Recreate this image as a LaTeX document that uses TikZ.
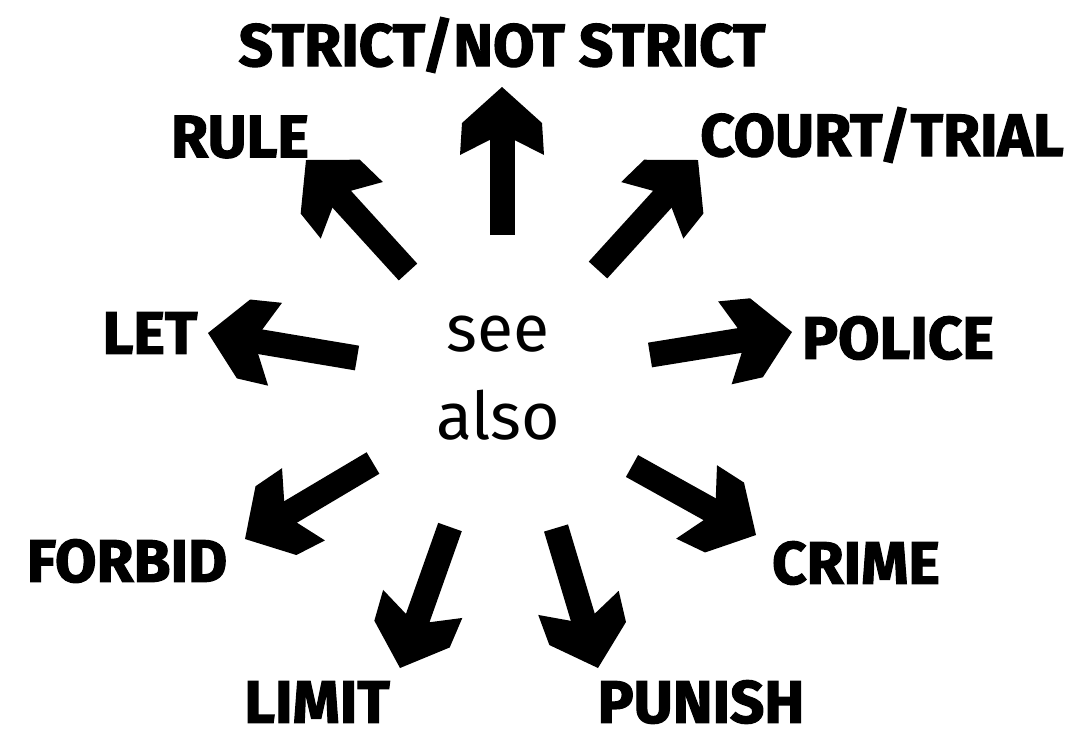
\documentclass[tikz,border=0pt]{standalone}
\usepackage{fontspec}
\setmainfont{Fira Sans}
\newfontfamily\heavyfont{Fira Sans}[BoldFeatures={FakeBold=2}]
\usetikzlibrary{arrows.meta}

% broad arrow head with a notched back
\pgfdeclarearrow{
  name = Chunky,
  setup code = {
    \pgfarrowssettipend{0pt}
    \pgfarrowssetlineend{-45pt}
    \pgfarrowssetvisualbackend{-53pt}
    \pgfarrowssetbackend{-68pt}
    \pgfarrowshullpoint{0pt}{0pt}
    \pgfarrowshullpoint{-68pt}{42pt}
    \pgfarrowshullpoint{-68pt}{-42pt}
  },
  drawing code = {
    \pgfpathmoveto{\pgfpoint{0pt}{0pt}}
    \pgfpathlineto{\pgfpoint{-36pt}{40pt}}
    \pgfpathlineto{\pgfpoint{-68pt}{42pt}}
    \pgfpathlineto{\pgfpoint{-53pt}{12.5pt}}
    \pgfpathlineto{\pgfpoint{-53pt}{-12.5pt}}
    \pgfpathlineto{\pgfpoint{-68pt}{-42pt}}
    \pgfpathlineto{\pgfpoint{-36pt}{-40pt}}
    \pgfpathclose
    \pgfusepathqfill
  }
}

\begin{document}
\begin{tikzpicture}[
  x=1pt, y=-1pt,
  word/.style={font=\heavyfont\fontsize{60}{60}\selectfont\bfseries, inner sep=0pt},
  seealso/.style={font=\fontsize{66}{88}\selectfont, align=center, inner sep=0pt},
  fat/.style={line width=25pt, -{Chunky}}
]
\useasboundingbox (0,0) rectangle (1078,740);

\node[seealso] (see) at (498,378) {see\\also};

\node[word] (strict) at (502,45) {STRICT/NOT STRICT};
\node[word] (rule) at (240,137) {RULE};
\node[word] (court) at (882,135) {COURT/TRIAL};
\node[word] (let) at (150,333) {LET};
\node[word] (police) at (898,338) {POLICE};
\node[word] (forbid) at (127,561) {FORBID};
\node[word] (crime) at (856,563) {CRIME};
\node[word] (limit) at (317,702) {LIMIT};
\node[word] (punish) at (701,702) {PUNISH};

% tails round the centre, tips next to the words
\coordinate (strict-t) at (502,235);
\coordinate (strict-h) at (502,87);
\coordinate (rule-t) at (408,272);
\coordinate (rule-h) at (306,160);
\coordinate (court-t) at (598,270);
\coordinate (court-h) at (698,160);
\coordinate (let-t) at (357,358);
\coordinate (let-h) at (208,333);
\coordinate (police-t) at (650,355);
\coordinate (police-h) at (792,332);
\coordinate (forbid-t) at (373,463);
\coordinate (forbid-h) at (245,539);
\coordinate (crime-t) at (632,466);
\coordinate (crime-h) at (756,535);
\coordinate (limit-t) at (450,527);
\coordinate (limit-h) at (400,668);
\coordinate (punish-t) at (556,528);
\coordinate (punish-h) at (598,668);

\draw[fat] (strict-t) -- (strict-h);
\draw[fat] (rule-t) -- (rule-h);
\draw[fat] (court-t) -- (court-h);
\draw[fat] (let-t) -- (let-h);
\draw[fat] (police-t) -- (police-h);
\draw[fat] (forbid-t) -- (forbid-h);
\draw[fat] (crime-t) -- (crime-h);
\draw[fat] (limit-t) -- (limit-h);
\draw[fat] (punish-t) -- (punish-h);
\end{tikzpicture}
\end{document}
